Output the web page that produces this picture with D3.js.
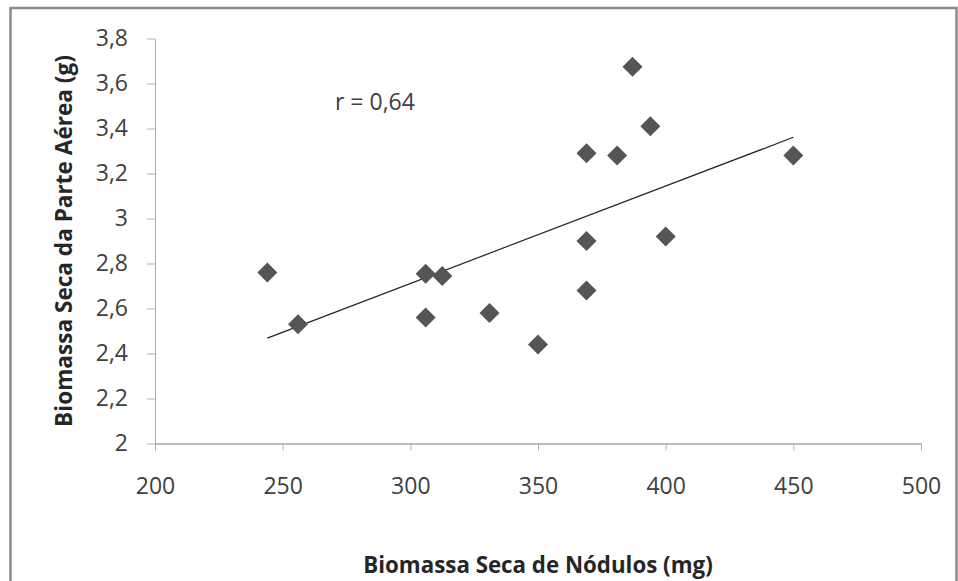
<!DOCTYPE html>
<html>
<head>
<meta charset="utf-8">
<script src="https://cdn.jsdelivr.net/npm/d3@7"></script>
<style>
  body { margin: 0; background: #fff; }
  text { font-family: "Open Sans", "Noto Sans", sans-serif; }
</style>
</head>
<body>
<div id="chart"></div>
<script>
// Biomassa seca de nódulos (mg) x biomassa seca da parte aérea (g)
const noduleMass = [244, 256, 306, 312.5, 306, 331, 350, 369, 369, 369, 387, 394, 381, 450, 400];
const shootMass = [2.76, 2.53, 2.755, 2.745, 2.56, 2.58, 2.44, 2.68, 2.90, 3.29, 3.675, 3.41, 3.28, 3.28, 2.92];
const xTicks = [200, 250, 300, 350, 400, 450, 500];
const yTicks = [2, 2.2, 2.4, 2.6, 2.8, 3, 3.2, 3.4, 3.6, 3.8];
const rLabel = "r = 0,64";

const W = 958, H = 581;
const margin = { top: 38.5, right: 37, bottom: 137.5, left: 155 };

const svg = d3.select("#chart").append("svg")
  .attr("width", W)
  .attr("height", H);

// moldura do gráfico
svg.append("rect")
  .attr("x", 10.5).attr("y", 8)
  .attr("width", 946).attr("height", 620)
  .attr("fill", "#fff")
  .attr("stroke", "#8a8a8a")
  .attr("stroke-width", 2.5);

const x = d3.scaleLinear().domain([200, 500]).range([margin.left, W - margin.right]);
const y = d3.scaleLinear().domain([2, 3.8]).range([H - margin.bottom, margin.top]);

const comma = d => String(d).replace(".", ",");

// eixo x
const gx = svg.append("g")
  .attr("transform", "translate(0," + y(2) + ")")
  .call(d3.axisBottom(x).tickValues(xTicks).tickSize(7).tickPadding(27).tickSizeOuter(0));
gx.select(".domain").attr("stroke", "#7a7a7a");
gx.selectAll(".tick line").attr("stroke", "#b0b0b0");
gx.selectAll(".tick text").attr("fill", "#404040").style("font-size", "23px");

// eixo y
const gy = svg.append("g")
  .attr("transform", "translate(" + x(200) + ",0)")
  .call(d3.axisLeft(y).tickValues(yTicks).tickFormat(comma).tickSize(8).tickPadding(19).tickSizeOuter(0));
gy.select(".domain").attr("stroke", "#a8a8a8");
gy.selectAll(".tick line").attr("stroke", "#b0b0b0");
gy.selectAll(".tick text").attr("fill", "#404040").style("font-size", "23px");

// linha de tendência (mínimos quadrados)
const mx = d3.mean(noduleMass), my = d3.mean(shootMass);
const sxy = d3.sum(noduleMass, (v, i) => (v - mx) * (shootMass[i] - my));
const sxx = d3.sum(noduleMass, v => (v - mx) * (v - mx));
const slope = sxy / sxx, intercept = my - slope * mx;
const x0 = d3.min(noduleMass), x1 = d3.max(noduleMass);

svg.append("line")
  .attr("x1", x(x0)).attr("y1", y(intercept + slope * x0))
  .attr("x2", x(x1)).attr("y2", y(intercept + slope * x1))
  .attr("stroke", "#222")
  .attr("stroke-width", 1.2);

// pontos
const points = noduleMass.map((v, i) => ({ x: v, y: shootMass[i] }));
svg.append("g").selectAll("path")
  .data(points)
  .enter().append("path")
  .attr("transform", d => "translate(" + x(d.x) + "," + y(d.y) + ")")
  .attr("d", "M0,-10L10,0L0,10L-10,0Z")
  .attr("fill", "#555");

svg.append("text")
  .attr("x", 335).attr("y", 110)
  .attr("fill", "#404040")
  .style("font-size", "23px")
  .text(rLabel);

// títulos dos eixos
svg.append("text")
  .attr("x", (x(200) + x(500)) / 2).attr("y", 573)
  .attr("text-anchor", "middle")
  .attr("fill", "#262626")
  .style("font-size", "22.3px")
  .style("font-weight", "bold")
  .text("Biomassa Seca de Nódulos (mg)");

svg.append("text")
  .attr("transform", "translate(72," + (y(2) + y(3.8)) / 2 + ") rotate(-90)")
  .attr("text-anchor", "middle")
  .attr("fill", "#262626")
  .style("font-size", "22.6px")
  .style("font-weight", "bold")
  .text("Biomassa Seca da Parte Aérea (g)");
</script>
</body>
</html>
